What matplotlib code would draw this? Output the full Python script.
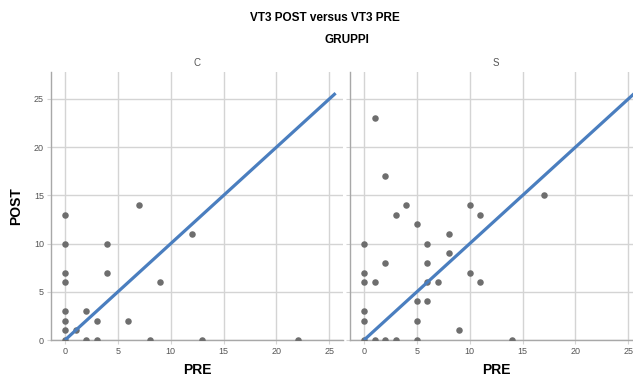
import matplotlib
matplotlib.use('Agg')
import matplotlib.pyplot as plt

plt.rcParams['font.family'] = ['Liberation Sans', 'DejaVu Sans']

# Gruppo C
c_pre = [0, 0, 0, 0, 0, 0, 0, 0, 1, 2, 2, 3, 3, 4, 4, 6, 7, 8, 9, 12, 13, 22]
c_post = [13, 10, 7, 6, 3, 2, 1, 0, 1, 3, 0, 2, 0, 10, 7, 2, 14, 0, 6, 11, 0, 0]

# Gruppo S
s_pre = [1, 2, 4, 3, 5, 10, 11, 17, 8, 0, 6, 2, 6, 8, 0, 10, 0, 1, 6, 7, 11,
         5, 6, 0, 0, 5, 9, 0, 1, 2, 3, 5, 14]
s_post = [23, 17, 14, 13, 12, 14, 13, 15, 11, 10, 10, 8, 8, 9, 7, 7, 6, 6, 6, 6, 6,
          4, 4, 3, 2, 2, 1, 0, 0, 0, 0, 0, 0]

groups = ['C', 'S']
ticks = [0, 5, 10, 15, 20, 25]
ref_line = [0, 25.6]

W, H = 633, 378
fig = plt.figure(figsize=(W / 100, H / 100), dpi=100)

grid_c = '#d4d4d4'
spine_c = '#a8a8a8'
dot_c = '#6e6e6e'
line_c = '#4a7ebf'

# pixel boxes: left, top, right, bottom
boxes = [(51, 72, 343, 340), (350, 72, 642, 340)]
data = [(c_pre, c_post), (s_pre, s_post)]

for i, (box, (xs, ys)) in enumerate(zip(boxes, data)):
    l, t, r, b = box
    ax = fig.add_axes([l / W, 1 - b / H, (r - l) / W, (b - t) / H])
    ax.set_xlim(-1.33, 26.3)
    ax.set_ylim(0, 27.8)
    ax.set_xticks(ticks)
    ax.set_yticks(ticks)
    ax.grid(True, color=grid_c, linewidth=1.0)
    ax.set_axisbelow(True)
    for s in ['top', 'right']:
        ax.spines[s].set_visible(False)
    for s in ['left', 'bottom']:
        ax.spines[s].set_color(spine_c)
        ax.spines[s].set_linewidth(1.0)
    ax.tick_params(length=3, color=grid_c, labelsize=6.5, labelcolor='#555555', pad=2)
    if i == 1:
        ax.tick_params(axis='y', labelleft=False)
    ax.scatter(xs, ys, s=22, color=dot_c, zorder=3, linewidths=0)
    ax.plot(ref_line, ref_line, color=line_c, linewidth=2.3, zorder=4, solid_capstyle='butt')
    ax.set_title(groups[i], fontsize=7, color='#555555', pad=4)
    ax.set_xlabel('PRE', fontsize=10, fontweight='bold', labelpad=5)
    if i == 0:
        ax.set_ylabel('POST', fontsize=10, fontweight='bold', labelpad=8)

fig.text(325 / W, 1 - 18 / H, 'VT3 POST versus VT3 PRE', ha='center', va='center',
         fontsize=8.5, fontweight='bold')
fig.text(347 / W, 1 - 40 / H, 'GRUPPI', ha='center', va='center',
         fontsize=8.5, fontweight='bold')

fig.savefig('out.png', dpi=100)
